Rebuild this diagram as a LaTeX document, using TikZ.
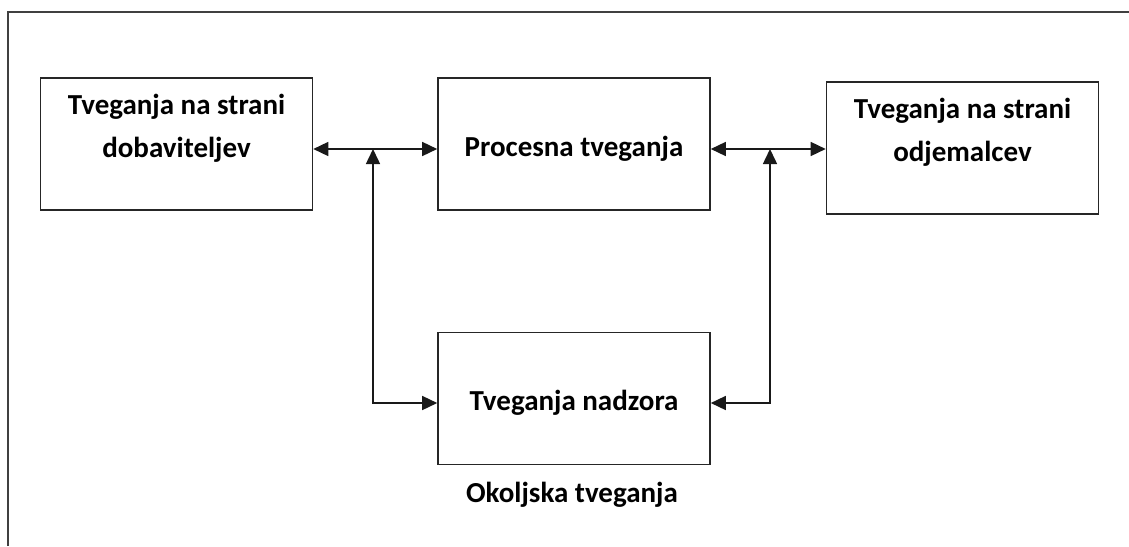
\documentclass[tikz,border=0pt]{standalone}
\usepackage{fontspec}
\setmainfont{Carlito}
\usetikzlibrary{arrows.meta}

\tikzset{
  box/.style={draw=black!85, line width=1.6pt, minimum width=272pt, minimum height=132pt, inner sep=0pt},
  txt/.style={font=\bfseries\fontsize{29}{43}\selectfont, align=center, inner sep=0pt},
  link/.style={line width=1.5pt, draw=black!90, >={Triangle[length=15pt,width=14pt]}, <->}
}

\begin{document}
\begin{tikzpicture}[x=1pt, y=-1pt]
  \useasboundingbox (0,0) rectangle (1129,546);
  % outer frame (left and top only)
  \draw[line width=1.8pt, black!75] (8,546) -- (8,12) -- (1129,12);

  \node[box] (sup) at (176.5,144) {};
  \node[txt] (suptext) at (176.5,128) {Tveganja na strani\\dobaviteljev};
  \node[box] (proc) at (574,144) {};
  \node[txt] (proctext) at (574,149) {Procesna tveganja};
  \node[box] (cust) at (962.5,148) {};
  \node[txt] (custtext) at (962.5,132) {Tveganja na strani\\odjemalcev};
  \node[box] (ctrl) at (574,398.5) {};
  \node[txt] (ctrltext) at (574,403) {Tveganja nadzora};
  \node[txt] (env) at (572,495) {Okoljska tveganja};

  \coordinate (lj) at (373,149);
  \coordinate (rj) at (770,149);

  \draw[link] (sup.east |- lj) -- (proc.west |- lj);
  \draw[link] (proc.east |- rj) -- (cust.west |- rj);
  \draw[link] (lj) -- (lj |- ctrltext) -- (ctrl.west |- ctrltext);
  \draw[link] (rj) -- (rj |- ctrltext) -- (ctrl.east |- ctrltext);
\end{tikzpicture}
\end{document}
